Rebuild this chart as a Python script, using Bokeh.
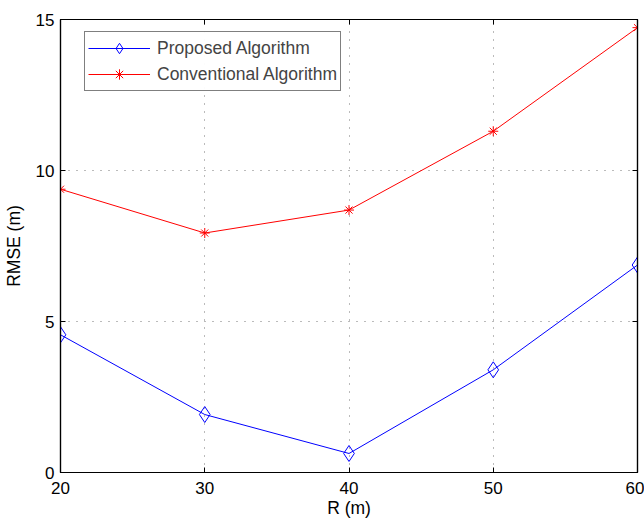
from bokeh.plotting import figure
from bokeh.models import Range1d, LinearAxis, FixedTicker, Legend, LegendItem
from bokeh.embed import file_html
from bokeh.resources import INLINE

R = [20, 30, 40, 50, 60]
proposed = [4.56, 1.92, 0.63, 3.40, 6.87]
conventional = [9.38, 7.93, 8.69, 11.30, 14.73]
x_ticks = [20, 30, 40, 50, 60]
y_ticks = [0, 5, 10, 15]

FONT = "Liberation Sans"

p = figure(width=644, height=520, output_backend="svg", toolbar_location=None,
           x_range=Range1d(20, 60), y_range=Range1d(0, 15),
           min_border_left=60, min_border_right=7, min_border_top=19, min_border_bottom=47)
p.background_fill_color = "white"
p.border_fill_color = "white"
p.outline_line_color = "black"
p.outline_line_width = 1.2

for ax in (p.xaxis[0], p.yaxis[0]):
    ax.major_tick_in = 5
    ax.major_tick_out = 0
    ax.minor_tick_in = 0
    ax.minor_tick_out = 0
    ax.axis_line_color = "black"
    ax.axis_line_width = 1.2
    ax.major_label_text_font = FONT
    ax.major_label_text_font_size = "17px"
    ax.major_label_text_color = "black"
    ax.axis_label_text_font = FONT
    ax.axis_label_text_font_size = "17.5px"
    ax.axis_label_text_font_style = "normal"
    ax.axis_label_text_color = "black"

p.xaxis[0].ticker = FixedTicker(ticks=x_ticks)
p.yaxis[0].ticker = FixedTicker(ticks=y_ticks)
p.xaxis[0].axis_label = "R (m)"
p.yaxis[0].axis_label = "RMSE (m)"
p.xaxis[0].major_label_standoff = 9
p.xaxis[0].axis_label_standoff = 1
p.yaxis[0].major_label_standoff = 6
p.yaxis[0].axis_label_standoff = 9

top = LinearAxis(ticker=FixedTicker(ticks=x_ticks), major_label_text_font_size="1px",
                 major_label_text_color=None, major_label_standoff=0,
                 major_tick_in=5, major_tick_out=0, minor_tick_in=0, minor_tick_out=0,
                 axis_line_width=1.2)
right = LinearAxis(ticker=FixedTicker(ticks=y_ticks), major_label_text_font_size="1px",
                   major_label_text_color=None, major_label_standoff=0,
                   major_tick_in=5, major_tick_out=0, minor_tick_in=0, minor_tick_out=0,
                   axis_line_width=1.2)
p.add_layout(top, "above")
p.add_layout(right, "right")

p.xgrid.ticker = FixedTicker(ticks=[30, 40, 50])
p.ygrid.ticker = FixedTicker(ticks=[5, 10])
for g in (p.xgrid[0], p.ygrid[0]):
    g.grid_line_color = "#777777"
    g.grid_line_dash = "1 7"
    g.grid_line_width = 1

l1 = p.line(R, proposed, line_color="blue", line_width=1)
s1 = p.scatter(R, proposed, marker="diamond", size=16, fill_color=None,
               line_color="blue", line_width=1)
l2 = p.line(R, conventional, line_color="red", line_width=1)
s2 = p.scatter(R, conventional, marker="asterisk", size=10, line_color="red", line_width=1)

legend = Legend(items=[
    LegendItem(label="Proposed Algorithm", renderers=[l1, s1]),
    LegendItem(label="Conventional Algorithm", renderers=[l2, s2]),
], location=(24, 381))
legend.label_text_font = FONT
legend.label_text_font_size = "17.5px"
legend.border_line_color = "black"
legend.border_line_width = 1.2
legend.glyph_width = 62
legend.glyph_height = 26
legend.label_height = 26
legend.label_standoff = 7
legend.spacing = -2
legend.padding = 3
legend.margin = 0
p.add_layout(legend, "center")

open("out.html", "w").write(file_html(p, INLINE))
